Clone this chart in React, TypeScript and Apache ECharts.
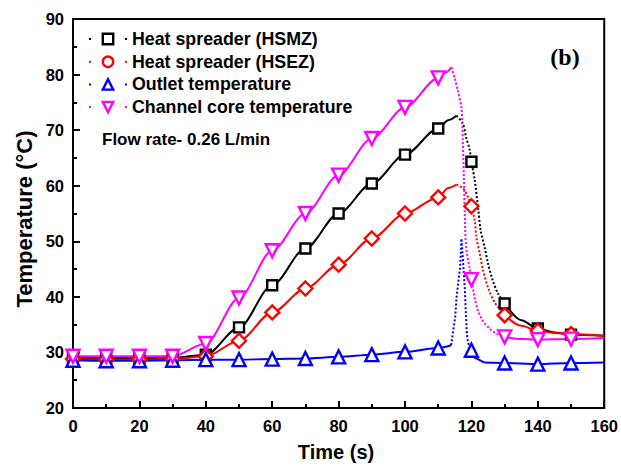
import React, { useEffect, useRef } from "react";
import * as echarts from "echarts";

// ---- data ----
const markerTimes = [0, 10, 20, 30, 40, 50, 60, 70, 80, 90, 100, 110, 120, 130, 140, 150];
const hsmzMarkers = [29.0, 29.0, 29.0, 29.0, 29.6, 34.5, 42.1, 48.7, 55.0, 60.4, 65.6, 70.3, 64.3, 38.8, 34.3, 33.2];
const hsezMarkers = [28.8, 28.7, 28.7, 28.8, 29.3, 32.1, 37.2, 41.5, 45.8, 50.5, 55.0, 57.9, 56.3, 36.7, 33.9, 33.3];
const outletMarkers = [28.6, 28.5, 28.5, 28.6, 28.7, 28.7, 28.8, 28.9, 29.2, 29.6, 30.1, 30.8, 30.4, 28.1, 27.9, 28.1];
const coreMarkers = [29.3, 29.3, 29.3, 29.3, 31.6, 39.8, 48.3, 55.0, 61.9, 68.5, 74.1, 79.4, 43.1, 32.8, 32.3, 32.4];

// end of rising (solid) part, after the 110 s marker
const hsmzPeak: [number, number][] = [[113, 71.8], [115.5, 72.6]];
const hsezPeak: [number, number][] = [[113, 59.6], [115.5, 60.2]];
const outletPeak: [number, number][] = [[113.9, 31.3]];
const corePeak: [number, number][] = [[112, 80.3], [114, 81.3]];

// dotted falling part
const hsmzFall: [number, number][] = [[115.5, 72.6], [117.4, 71.2], [118.4, 68.7], [119.5, 66.4], [120, 64.3], [121, 61], [122, 56], [122.8, 51.9], [124, 48.9], [125, 46], [126.4, 43], [128, 40.6], [130, 38.8]];
const hsezFall: [number, number][] = [[115.5, 60.2], [117.5, 59.5], [119, 57.9], [120, 56.3], [121, 53.7], [121.5, 50.7], [122.5, 47.8], [123.5, 44.8], [125, 41.7], [127, 39], [130, 36.7]];
const outletFall: [number, number][] = [[113.9, 31.3], [114.5, 33.9], [115.1, 36.3], [115.5, 39.8], [116, 42.4], [116.6, 45.3], [117, 50.5], [117.5, 46.2], [118, 41.5], [118.3, 37.5], [118.6, 33.5], [119, 31.7], [120, 30.4]];
const coreFall: [number, number][] = [[114, 81.3], [115, 79.3], [116, 76.9], [117, 74], [117.4, 68], [117.7, 62], [118, 55], [118.4, 49], [119.4, 45.3], [120, 43.1], [121, 39.8], [122, 37.5], [123.4, 35.7], [125.5, 34.3], [127.5, 33.4], [130, 32.8]];

// solid tail
const hsmzTail: [number, number][] = [[130, 38.8], [135, 35.8], [140, 34.3], [145, 33.6], [150, 33.2], [160, 33.0]];
const hsezTail: [number, number][] = [[130, 36.7], [135, 34.8], [140, 33.9], [145, 33.5], [150, 33.3], [160, 33.0]];
const outletTail: [number, number][] = [[120, 30.4], [121, 29.0], [124, 28.2], [130, 28.1], [140, 27.9], [150, 28.1], [160, 28.2]];
const coreTail: [number, number][] = [[130, 32.8], [135, 32.4], [140, 32.3], [150, 32.4], [160, 32.6]];

const xTicks = { min: 0, max: 160, interval: 20 };
const yTicks = { min: 20, max: 90, interval: 10 };

const FONT = "Liberation Sans, Arial, sans-serif";

type Cfg = {
  name: string;
  color: string;
  markers: number[];
  peak: [number, number][];
  fall: [number, number][];
  tail: [number, number][];
  symbol: string;
  legendSymbol: string;
  size: number;
  rotate: number;
  smoothFall: boolean;
};

const configs: Cfg[] = [
  { name: "Heat spreader (HSMZ)", color: "#000000", markers: hsmzMarkers, peak: hsmzPeak, fall: hsmzFall, tail: hsmzTail, symbol: "rect", legendSymbol: "rect", size: 10, rotate: 0, smoothFall: true },
  { name: "Heat spreader (HSEZ)", color: "#ff0000", markers: hsezMarkers, peak: hsezPeak, fall: hsezFall, tail: hsezTail, symbol: "diamond", legendSymbol: "circle", size: 14, rotate: 0, smoothFall: true },
  { name: "Outlet temperature", color: "#0000ff", markers: outletMarkers, peak: outletPeak, fall: outletFall, tail: outletTail, symbol: "triangle", legendSymbol: "triangle", size: 13, rotate: 0, smoothFall: false },
  { name: "Channel core temperature", color: "#ff00ff", markers: coreMarkers, peak: corePeak, fall: coreFall, tail: coreTail, symbol: "triangle", legendSymbol: "triangle", size: 13, rotate: 180, smoothFall: true },
];

export default function App() {
  const ref = useRef<HTMLDivElement>(null);
  useEffect(() => {
    if (!ref.current) return;
    const chart = echarts.init(ref.current, undefined, { renderer: "svg" });
    const series: any[] = [];
    // legend-defining series first
    configs.forEach((c) => {
      series.push({
        type: "line",
        name: c.name,
        data: [],
        symbol: c.legendSymbol,
        symbolRotate: c.rotate,
        itemStyle: { color: "#fff", borderColor: c.color, borderWidth: 2.4 },
        lineStyle: { color: c.color, width: 2, type: [2, 16] },
      });
    });
    configs.forEach((c, i) => {
      const rise: [number, number][] = markerTimes
        .map((t, k) => [t, c.markers[k]] as [number, number])
        .filter((p) => p[0] <= 110)
        .concat(c.peak);
      series.push({
        type: "line", name: c.name, data: rise, smooth: 0.3, smoothMonotone: "x",
        symbol: "none", silent: true, z: 2 + i * 0.01,
        lineStyle: { color: c.color, width: 2 },
      });
      series.push({
        type: "line", name: c.name, data: c.fall, smooth: c.smoothFall ? 0.3 : false,
        symbol: "none", silent: true, z: 2,
        lineStyle: { color: c.color, width: 2, type: "dotted" },
      });
      series.push({
        type: "line", name: c.name, data: c.tail, smooth: 0.3, smoothMonotone: "x",
        symbol: "none", silent: true, z: 2,
        lineStyle: { color: c.color, width: 2 },
      });
      series.push({
        type: "scatter", name: c.name, silent: true, z: 5,
        data: markerTimes.map((t, k) => [t, c.markers[k]]),
        symbol: c.symbol, symbolSize: c.size, symbolRotate: c.rotate,
        itemStyle: { color: "#fff", borderColor: c.color, borderWidth: 2.4, opacity: 1 },
      });
    });

    const axisLabel = { color: "#000", fontSize: 16.5, fontWeight: "bold", fontFamily: FONT };
    chart.setOption({
      animation: false,
      backgroundColor: "#fff",
      grid: { left: 73, right: 14, top: 19, bottom: 67, show: true, borderColor: "#000", borderWidth: 2, backgroundColor: "transparent" },
      xAxis: {
        type: "value", ...xTicks,
        axisLine: { show: true, lineStyle: { color: "#000", width: 2 } },
        axisTick: { show: true, inside: true, length: 7, lineStyle: { color: "#000", width: 2 } },
        minorTick: { show: true, splitNumber: 2, length: 4, lineStyle: { color: "#000", width: 2 } },
        splitLine: { show: false },
        axisLabel: { ...axisLabel, margin: 9 },
      },
      yAxis: {
        type: "value", ...yTicks,
        axisLine: { show: true, lineStyle: { color: "#000", width: 2 } },
        axisTick: { show: true, inside: true, length: 7, lineStyle: { color: "#000", width: 2 } },
        minorTick: { show: true, splitNumber: 2, length: 4, lineStyle: { color: "#000", width: 2 } },
        splitLine: { show: false },
        axisLabel: { ...axisLabel, margin: 9 },
      },
      legend: {
        left: 88, top: 30, orient: "vertical", padding: 0, itemGap: 4.7,
        itemWidth: 38, itemHeight: 13, selectedMode: false,
        textStyle: { color: "#000", fontSize: 17.8, fontWeight: "bold", fontFamily: FONT },
        data: configs.map((c) => ({
          name: c.name,
          itemStyle: { color: "#fff", borderColor: c.color, borderWidth: 2.4 },
          lineStyle: { color: c.color, width: 2, type: [2, 16], opacity: 1 },
        })),
      },
      graphic: [
        { type: "text", left: 102, top: 131, style: { text: "Flow rate- 0.26 L/min", fontSize: 17, fontWeight: "bold", fontFamily: FONT, fill: "#000" } },
        { type: "text", x: 565, y: 57, style: { text: "(b)", fontSize: 24, fontWeight: "bold", fontFamily: "Liberation Serif, Times New Roman, serif", fill: "#000", align: "center", verticalAlign: "middle" } },
        { type: "text", x: 24, y: 219, rotation: Math.PI / 2, style: { text: "Temperature (°C)", fontSize: 22, fontWeight: "bold", fontFamily: FONT, fill: "#000", align: "center", verticalAlign: "middle" } },
        { type: "text", x: 336, y: 452, style: { text: "Time (s)", fontSize: 20, fontWeight: "bold", fontFamily: FONT, fill: "#000", align: "center", verticalAlign: "middle" } },
      ],
      series,
    });
    return () => chart.dispose();
  }, []);
  return <div ref={ref} style={{ position: "fixed", left: 0, top: 0, width: 621, height: 475, background: "#fff" }} />;
}
